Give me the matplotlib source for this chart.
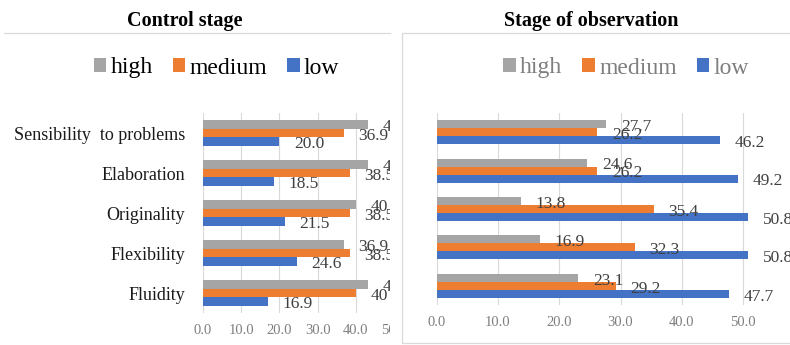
import matplotlib.pyplot as plt
import matplotlib.patches as mpatches
from matplotlib.lines import Line2D
from matplotlib.font_manager import FontProperties
from matplotlib.transforms import Bbox, TransformedBbox
import numpy as np

plt.rcParams['font.family'] = ['Liberation Serif', 'DejaVu Serif']

W, H = 790, 345   # canvas in px (dpi 100)

CATEGORIES = ['Sensibility  to problems', 'Elaboration', 'Originality',
              'Flexibility', 'Fluidity']
LEVELS = ['high', 'medium', 'low']

CONTROL_HIGH   = [43.1, 43.1, 40.0, 36.9, 43.1]
CONTROL_MEDIUM = [36.9, 38.5, 38.5, 38.5, 40.0]
CONTROL_LOW    = [20.0, 18.5, 21.5, 24.6, 16.9]

OBS_HIGH   = [27.7, 24.6, 13.8, 16.9, 23.1]
OBS_MEDIUM = [26.2, 26.2, 35.4, 32.3, 29.2]
OBS_LOW    = [46.2, 49.2, 50.8, 50.8, 47.7]

X_TICKS = [0, 10, 20, 30, 40, 50, 60]

COLORS = {'high': '#A5A5A5', 'medium': '#ED7D31', 'low': '#4472C4'}
GRID = '#D9D9D9'
SERIF = 'Liberation Serif'


def px_rect(x0, y0, x1, y1):
    """pixel box (top-left origin) -> figure fraction rect"""
    return [x0 / W, 1 - y1 / H, (x1 - x0) / W, (y1 - y0) / H]


def fmt(v):
    # the source chart printed the 40s without a decimal
    return '40' if v == 40 else f'{v:.1f}'


def draw_panel(fig, rect, series, xmax, show_cats):
    ax = fig.add_axes(rect)
    y = np.arange(len(CATEGORIES))
    h = 0.21
    for k, (name, vals) in enumerate(zip(LEVELS, series)):
        pos = y + (k - 1) * h
        bars = ax.barh(pos, vals, height=h, color=COLORS[name], label=name, zorder=2)
        for b, v in zip(bars, vals):
            ax.annotate(fmt(v), (b.get_width(), b.get_y() + h / 2),
                        xytext=(10.5, -2), textcoords='offset points',
                        ha='left', va='center', fontsize=12.5, color='#404040',
                        family=SERIF, annotation_clip=False, zorder=3)
    ax.set_xlim(0, xmax)
    ax.set_ylim(len(CATEGORIES) - 0.5, -0.5)
    ticks = [t for t in X_TICKS if t <= xmax]
    ax.set_xticks(ticks)
    ax.set_xticklabels([f'{t:.1f}' for t in ticks], family=SERIF)
    ax.set_yticks(y)
    ax.set_yticklabels(CATEGORIES if show_cats else [], family=SERIF)
    ax.tick_params(axis='x', length=0, pad=8, labelsize=10.5, labelcolor='#7F7F7F')
    ax.tick_params(axis='y', length=0, pad=13, labelsize=13, labelcolor='#1A1A1A')
    ax.grid(axis='x', color=GRID, linewidth=0.8, zorder=0)
    ax.set_axisbelow(True)
    for s in ax.spines.values():
        s.set_visible(False)
    ax.patch.set_alpha(0)
    return ax


fig = plt.figure(figsize=(W / 100, H / 100), dpi=100, facecolor='white')

# ── left: control stage ──────────────────────────────────────
ax_l = draw_panel(fig, px_rect(203, 113, 394, 313),
                  [CONTROL_HIGH, CONTROL_MEDIUM, CONTROL_LOW], 50, True)
# ── right: stage of observation ──────────────────────────────
ax_r = draw_panel(fig, px_rect(436.7, 113, 804.3, 305),
                  [OBS_HIGH, OBS_MEDIUM, OBS_LOW], 60, False)

# the left chart is cut off at x=390 px, before the right box starts
cut = TransformedBbox(Bbox.from_extents(0, 0, 390 / W, 1), fig.transFigure)
def clip_left(t):
    t.set_clip_path(None)
    t.set_clip_box(cut)
    t.set_clip_on(True)

for t in ax_l.texts:
    clip_left(t)
for tick in ax_l.xaxis.get_major_ticks():
    clip_left(tick.label1)
fig.patches.append(mpatches.Rectangle((390 / W, 0), 11.5 / W, 1 - 33 / H,
                                      transform=fig.transFigure,
                                      facecolor='white', edgecolor='none', zorder=5))

# panel frames
fig.add_artist(Line2D([4 / W, 390 / W], [1 - 32.5 / H] * 2, color=GRID, lw=0.9,
                      transform=fig.transFigure, zorder=6))
fig.patches.append(mpatches.Rectangle((402 / W, 1 - 343 / H), 400 / W, (343 - 32.5) / H,
                                      transform=fig.transFigure, facecolor='none',
                                      edgecolor=GRID, lw=0.9, zorder=6))

# titles
fig.text(185 / W, 1 - 26 / H, 'Control stage', ha='center', va='baseline',
         fontsize=14.5, fontweight='bold', color='#000000', family=SERIF)
fig.text(591.5 / W, 1 - 26 / H, 'Stage of observation', ha='center', va='baseline',
         fontsize=14.5, fontweight='bold', color='#000000', family=SERIF)

# legends
for ax, cx, tcol in [(ax_l, 216.5, '#000000'), (ax_r, 626, '#7F7F7F')]:
    handles, labels = ax.get_legend_handles_labels()
    fig.legend(handles, labels, loc='center', ncol=3,
               bbox_to_anchor=(cx / W, 1 - 68 / H), frameon=False,
               prop=FontProperties(family=SERIF, size=17), labelcolor=tcol,
               handlelength=0.53, handleheight=0.53,
               handletextpad=0.18, columnspacing=0.85, borderpad=0, borderaxespad=0)

fig.savefig('out.png', dpi=100, facecolor='white')
